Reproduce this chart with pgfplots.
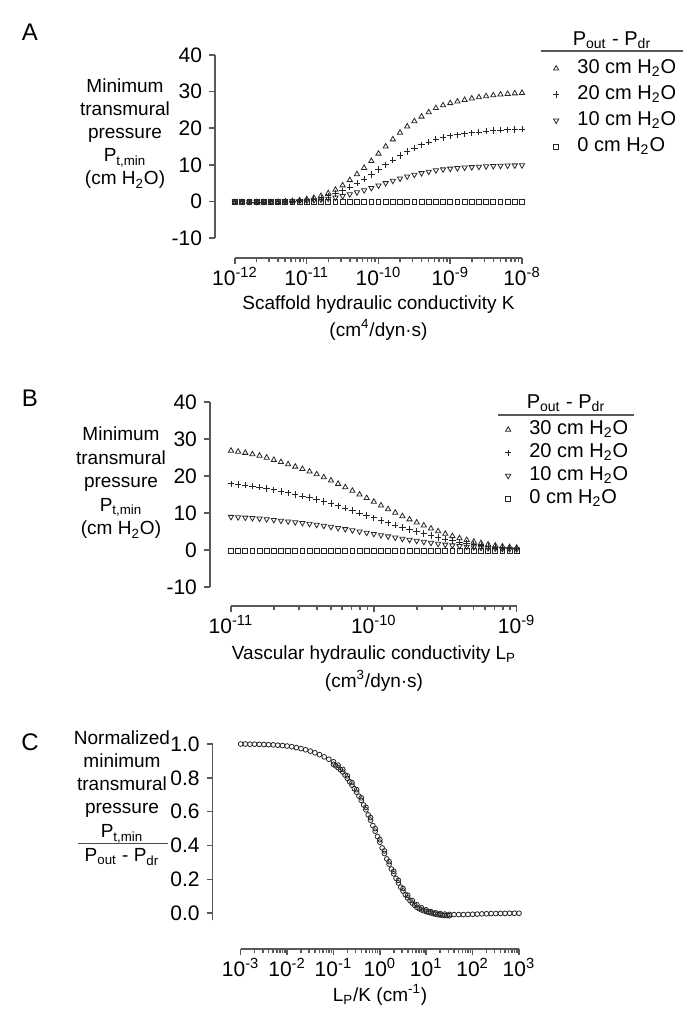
\documentclass[border=0pt]{standalone}
\usepackage{fontspec}
\setmainfont{Liberation Sans}
\usepackage{pgfplots}
\usepackage{pgfplotstable}
\pgfplotsset{compat=1.18}

% panel A: scaffold conductivity K, P_t,min for each P_out - P_dr
\pgfplotstableread{
K p30 p20 p10 p0
1e-12 -0.18 -0.12 -0.06 -0.2
1.2589e-12 -0.21 -0.14 -0.07 -0.2
1.5849e-12 -0.24 -0.16 -0.08 -0.2
1.9953e-12 -0.24 -0.16 -0.08 -0.2
2.5119e-12 -0.24 -0.16 -0.08 -0.2
3.1623e-12 -0.21 -0.14 -0.07 -0.2
3.9811e-12 -0.15 -0.10 -0.05 -0.2
5.0119e-12 -0.06 -0.04 -0.02 -0.2
6.3096e-12 0.09 0.06 0.03 -0.2
7.9433e-12 0.30 0.20 0.10 -0.2
1e-11 0.60 0.40 0.20 -0.2
1.2589e-11 0.96 0.64 0.32 -0.2
1.5849e-11 1.50 1.00 0.50 -0.2
1.9953e-11 2.25 1.50 0.75 -0.2
2.5119e-11 3.18 2.12 1.06 -0.2
3.1623e-11 4.38 2.92 1.46 -0.2
3.9811e-11 5.82 3.88 1.94 -0.2
5.0119e-11 7.44 4.96 2.48 -0.2
6.3096e-11 9.15 6.10 3.05 -0.2
7.9433e-11 11.04 7.36 3.68 -0.2
1e-10 13.05 8.70 4.35 -0.2
1.2589e-10 15.00 10.00 5.00 -0.2
1.5849e-10 16.95 11.30 5.65 -0.2
1.9953e-10 18.78 12.52 6.26 -0.2
2.5119e-10 20.46 13.64 6.82 -0.2
3.1623e-10 21.90 14.60 7.30 -0.2
3.9811e-10 23.16 15.44 7.72 -0.2
5.0119e-10 24.36 16.24 8.12 -0.2
6.3096e-10 25.50 17.00 8.50 -0.2
7.9433e-10 26.25 17.50 8.75 -0.2
1e-9 26.85 17.90 8.95 -0.2
1.2589e-9 27.30 18.20 9.10 -0.2
1.5849e-9 27.72 18.48 9.24 -0.2
1.9953e-9 28.11 18.74 9.37 -0.2
2.5119e-9 28.44 18.96 9.48 -0.2
3.1623e-9 28.74 19.16 9.58 -0.2
3.9811e-9 28.98 19.32 9.66 -0.2
5.0119e-9 29.19 19.46 9.73 -0.2
6.3096e-9 29.37 19.58 9.79 -0.2
7.9433e-9 29.52 19.68 9.84 -0.2
1e-8 29.64 19.76 9.88 -0.2
}\dataA

% panel B: vascular conductivity L_P
\pgfplotstableread{
LP p30 p20 p10 p0
1e-11 26.85 17.90 8.95 -0.2
1.122e-11 26.58 17.72 8.86 -0.2
1.2589e-11 26.25 17.50 8.75 -0.2
1.4125e-11 25.89 17.26 8.63 -0.2
1.5849e-11 25.50 17.00 8.50 -0.2
1.7783e-11 24.96 16.64 8.32 -0.2
1.9953e-11 24.36 16.24 8.12 -0.2
2.2387e-11 23.76 15.84 7.92 -0.2
2.5119e-11 23.16 15.44 7.72 -0.2
2.8184e-11 22.53 15.02 7.51 -0.2
3.1623e-11 21.90 14.60 7.30 -0.2
3.5481e-11 21.21 14.14 7.07 -0.2
3.9811e-11 20.46 13.64 6.82 -0.2
4.4668e-11 19.65 13.10 6.55 -0.2
5.0119e-11 18.78 12.52 6.26 -0.2
5.6234e-11 17.88 11.92 5.96 -0.2
6.3096e-11 16.95 11.30 5.65 -0.2
7.0795e-11 15.99 10.66 5.33 -0.2
7.9433e-11 15.00 10.00 5.00 -0.2
8.9125e-11 14.04 9.36 4.68 -0.2
1e-10 13.05 8.70 4.35 -0.2
1.122e-10 12.03 8.02 4.01 -0.2
1.2589e-10 11.04 7.36 3.68 -0.2
1.4125e-10 10.08 6.72 3.36 -0.2
1.5849e-10 9.15 6.10 3.05 -0.2
1.7783e-10 8.28 5.52 2.76 -0.2
1.9953e-10 7.44 4.96 2.48 -0.2
2.2387e-10 6.63 4.42 2.21 -0.2
2.5119e-10 5.82 3.88 1.94 -0.2
2.8184e-10 5.07 3.38 1.69 -0.2
3.1623e-10 4.38 2.92 1.46 -0.2
3.5481e-10 3.75 2.50 1.25 -0.2
3.9811e-10 3.18 2.12 1.06 -0.2
4.4668e-10 2.70 1.80 0.90 -0.2
5.0119e-10 2.25 1.50 0.75 -0.2
5.6234e-10 1.86 1.24 0.62 -0.2
6.3096e-10 1.50 1.00 0.50 -0.2
7.0795e-10 1.20 0.80 0.40 -0.2
7.9433e-10 0.96 0.64 0.32 -0.2
8.9125e-10 0.78 0.52 0.26 -0.2
1e-9 0.60 0.40 0.20 -0.2
}\dataB

% panel C: normalized P_t,min vs L_P/K
\pgfplotstableread{
r f
1e-3 1.000
1.2589e-3 1.000
1.5849e-3 0.999
1.9953e-3 0.999
2.5119e-3 0.998
3.1623e-3 0.997
3.9811e-3 0.996
5.0119e-3 0.995
6.3096e-3 0.993
7.9433e-3 0.991
1e-2 0.988
1.2589e-2 0.984
1.5849e-2 0.979
1.9953e-2 0.973
2.5119e-2 0.966
3.1623e-2 0.958
3.9811e-2 0.948
5.0119e-2 0.937
6.3096e-2 0.924
7.9433e-2 0.910
1e-1 0.895
1.2589e-1 0.875
1.5849e-1 0.850
1.9953e-1 0.812
2.5119e-1 0.772
3.1623e-1 0.730
3.9811e-1 0.682
5.0119e-1 0.626
6.3096e-1 0.565
7.9433e-1 0.500
1 0.435
1.2589 0.368
1.5849 0.305
1.9953 0.248
2.5119 0.194
3.1623 0.146
3.9811 0.106
5.0119 0.075
6.3096 0.050
7.9433 0.032
10 0.020
12.589 0.010
15.849 0.003
19.953 -0.002
25.119 -0.005
31.623 -0.007
39.811 -0.008
50.119 -0.008
63.096 -0.008
79.433 -0.007
100 -0.006
125.89 -0.005
158.49 -0.004
199.53 -0.003
251.19 -0.002
316.23 -0.002
398.11 -0.001
501.19 -0.001
630.96 0.000
794.33 0.000
1000 0.000
}\dataC

\pgfplotstableread{
r f
1e-1 0.880
1.122e-1 0.871
1.2589e-1 0.860
1.4125e-1 0.848
1.5849e-1 0.835
1.7783e-1 0.817
1.9953e-1 0.797
2.2387e-1 0.777
2.5119e-1 0.757
2.8184e-1 0.736
3.1623e-1 0.715
3.5481e-1 0.692
3.9811e-1 0.667
4.4668e-1 0.640
5.0119e-1 0.611
5.6234e-1 0.581
6.3096e-1 0.550
7.0795e-1 0.518
7.9433e-1 0.485
8.9125e-1 0.453
1 0.420
1.122 0.386
1.2589 0.353
1.4125 0.321
1.5849 0.290
1.7783 0.261
1.9953 0.233
2.2387 0.206
2.5119 0.179
2.8184 0.154
3.1623 0.131
3.5481 0.110
3.9811 0.091
4.4668 0.075
5.0119 0.060
5.6234 0.047
6.3096 0.035
7.0795 0.027
7.9433 0.020
8.9125 0.015
10 0.010
11.22 0.006
12.589 0.002
14.125 -0.002
15.849 -0.005
17.783 -0.008
19.953 -0.010
22.387 -0.012
25.119 -0.013
28.184 -0.014
31.623 -0.015
}\dataCb

\pgfplotsset{
  myaxis/.style={
    scale only axis,
    axis x line*=bottom, axis y line*=left,
    axis line style={black!65, line width=0.75pt},
    every tick/.style={black!65, line width=0.75pt},
    tick align=outside,
    major tick length=3pt, minor tick length=1.8pt,
    ticklabel style={font=\fontsize{10.5}{12}\selectfont},
    xticklabel style={yshift=2pt},
    xticklabel={\pgfmathparse{int(round(\tick))}10\textsuperscript{\pgfmathresult}},
    /pgf/number format/assume math mode=true,
    clip=false,
  },
  myleg/.style={
    legend cell align=left,
    legend style={draw=none, fill=none, inner sep=0pt, outer sep=0pt,
      font=\fontsize{10}{12}\selectfont, row sep=0pt,
      /tikz/every odd column/.append style={column sep=8.5pt}},
  },
  s30/.style={only marks, mark=triangle, mark size=1.5pt, mark options={draw=black!85, line width=0.4pt}},
  s20/.style={only marks, mark=+, mark size=1.6pt, mark options={draw=black!85, line width=0.45pt}},
  s10/.style={only marks, mark=triangle, mark size=1.5pt, mark options={draw=black!85, line width=0.4pt, rotate=180}},
  s0/.style={only marks, mark=square, mark size=1.2pt, mark options={draw=black!85, line width=0.4pt}},
}

\begin{document}
\begin{tikzpicture}
\path[use as bounding box] (0pt,0pt) rectangle (345.5pt,-508.5pt);

% ---- A ----
\begin{axis}[xmode=log, log basis x=10, myaxis, myleg,
    at={(117.5pt,-119pt)}, anchor=south west,
    width=143.5pt, height=91.5pt,
    xmin=1e-12, xmax=1e-8, ymin=-10, ymax=40,
    xtickten={-12,-11,-10,-9,-8}, ytick={-10,0,10,20,30,40},
    minor xtick={2e-12,3e-12,4e-12,5e-12,6e-12,7e-12,8e-12,9e-12,
      2e-11,3e-11,4e-11,5e-11,6e-11,7e-11,8e-11,9e-11,
      2e-10,3e-10,4e-10,5e-10,6e-10,7e-10,8e-10,9e-10,
      2e-9,3e-9,4e-9,5e-9,6e-9,7e-9,8e-9,9e-9},
    axis x line shift=10pt, axis y line shift=10pt,
    legend style={nodes={inner sep=0.5pt, text height=8.5pt, text depth=3.5pt},
      at={(1.108,0.997)}, anchor=north west}]
\addplot[s30] table[x=K, y=p30] {\dataA};
\addplot[s20] table[x=K, y=p20] {\dataA};
\addplot[s10] table[x=K, y=p10] {\dataA};
\addplot[s0] table[x=K, y=p0] {\dataA};
\legend{30 cm H\textsubscript{2}O, 20 cm H\textsubscript{2}O, 10 cm H\textsubscript{2}O, 0 cm H\textsubscript{2}O}
\end{axis}

% ---- B ----
\begin{axis}[xmode=log, log basis x=10, myaxis, myleg,
    at={(115.5pt,-293.5pt)}, anchor=south west,
    width=142.85pt, height=92.5pt,
    xmin=1e-11, xmax=1e-9, ymin=-10, ymax=40,
    xtickten={-11,-10,-9}, ytick={-10,0,10,20,30,40},
    minor xtick={2e-11,3e-11,4e-11,5e-11,6e-11,7e-11,8e-11,9e-11,
      2e-10,3e-10,4e-10,5e-10,6e-10,7e-10,8e-10,9e-10},
    axis x line shift=9.5pt, axis y line shift=10.5pt,
    legend style={nodes={inner sep=0.5pt, text height=7.5pt, text depth=3pt},
      at={(0.959,0.912)}, anchor=north west}]
\addplot[s30] table[x=LP, y=p30] {\dataB};
\addplot[s20] table[x=LP, y=p20] {\dataB};
\addplot[s10] table[x=LP, y=p10] {\dataB};
\addplot[s0] table[x=LP, y=p0] {\dataB};
\legend{30 cm H\textsubscript{2}O, 20 cm H\textsubscript{2}O, 10 cm H\textsubscript{2}O, 0 cm H\textsubscript{2}O}
\end{axis}

% ---- C ----
\begin{axis}[xmode=log, log basis x=10, myaxis,
    at={(120.35pt,-460pt)}, anchor=south west,
    width=139.15pt, height=88pt,
    xmin=1e-3, xmax=1e3, ymin=-0.04, ymax=1.0,
    xtickten={-3,-2,-1,0,1,2,3}, ytick={0,0.2,0.4,0.6,0.8,1.0},
    minor xtick={2e-3,3e-3,4e-3,5e-3,6e-3,7e-3,8e-3,9e-3,
      2e-2,3e-2,4e-2,5e-2,6e-2,7e-2,8e-2,9e-2,
      0.2,0.3,0.4,0.5,0.6,0.7,0.8,0.9,
      2,3,4,5,6,7,8,9,
      20,30,40,50,60,70,80,90,
      200,300,400,500,600,700,800,900},
    yticklabel style={/pgf/number format/.cd, fixed, fixed zerofill, precision=1},
    axis x line shift=14.5pt, axis y line shift=14pt]
\addplot[only marks, mark=o, mark size=1.2pt, mark options={draw=black!85, line width=0.4pt}] table[x=r, y=f] {\dataCb};
\addplot[only marks, mark=o, mark size=1.2pt, mark options={draw=black!85, line width=0.4pt}] table[x=r, y=f] {\dataC};
\end{axis}

% panel letters
\node[font=\fontsize{12}{14}\selectfont] at (15pt,-16pt) {A};
\node[font=\fontsize{12}{14}\selectfont] at (15pt,-199pt) {B};
\node[font=\fontsize{12}{14}\selectfont] at (15pt,-371pt) {C};

% y labels
\node[font=\fontsize{9.5}{11.5}\selectfont, align=center] at (62.5pt,-67pt)
  {Minimum\\transmural\\pressure\\P\textsubscript{t,min}\\(cm H\textsubscript{2}O)};
\node[font=\fontsize{9.5}{11.75}\selectfont, align=center] at (60.5pt,-241.5pt)
  {Minimum\\transmural\\pressure\\P\textsubscript{t,min}\\(cm H\textsubscript{2}O)};
\node[font=\fontsize{9.5}{11.5}\selectfont, align=center] at (61pt,-387pt)
  {Normalized\\minimum\\transmural\\pressure};
\node[font=\fontsize{9.5}{11.5}\selectfont] at (61pt,-417pt) {P\textsubscript{t,min}};
\draw[black!70, line width=0.5pt] (39pt,-421.5pt) -- (84pt,-421.5pt);
\node[font=\fontsize{9.5}{11.5}\selectfont] at (61pt,-428.5pt) {P\textsubscript{out} - P\textsubscript{dr}};

% x labels
\node[font=\fontsize{9.5}{11.5}\selectfont] at (189.25pt,-152.5pt) {Scaffold hydraulic conductivity K};
\node[font=\fontsize{9.5}{11.5}\selectfont] at (189.25pt,-165pt) {(cm\textsuperscript{4}/dyn·s)};
\node[font=\fontsize{9.5}{11.5}\selectfont] at (187pt,-327.5pt) {Vascular hydraulic conductivity L\textsubscript{P}};
\node[font=\fontsize{9.5}{11.5}\selectfont] at (187pt,-340.5pt) {(cm\textsuperscript{3}/dyn·s)};
\node[font=\fontsize{9.5}{11.5}\selectfont] at (190pt,-497.5pt) {L\textsubscript{P}/K (cm\textsuperscript{-1})};

% legend headers
\node[font=\fontsize{10}{12}\selectfont] at (306pt,-20pt) {P\textsubscript{out} - P\textsubscript{dr}};
\draw[black!65, line width=0.75pt] (270.5pt,-25.5pt) -- (341.5pt,-25.5pt);
\node[font=\fontsize{10}{12}\selectfont] at (283pt,-201.5pt) {P\textsubscript{out} - P\textsubscript{dr}};
\draw[black!65, line width=0.75pt] (249pt,-207.5pt) -- (317pt,-207.5pt);
\end{tikzpicture}
\end{document}
